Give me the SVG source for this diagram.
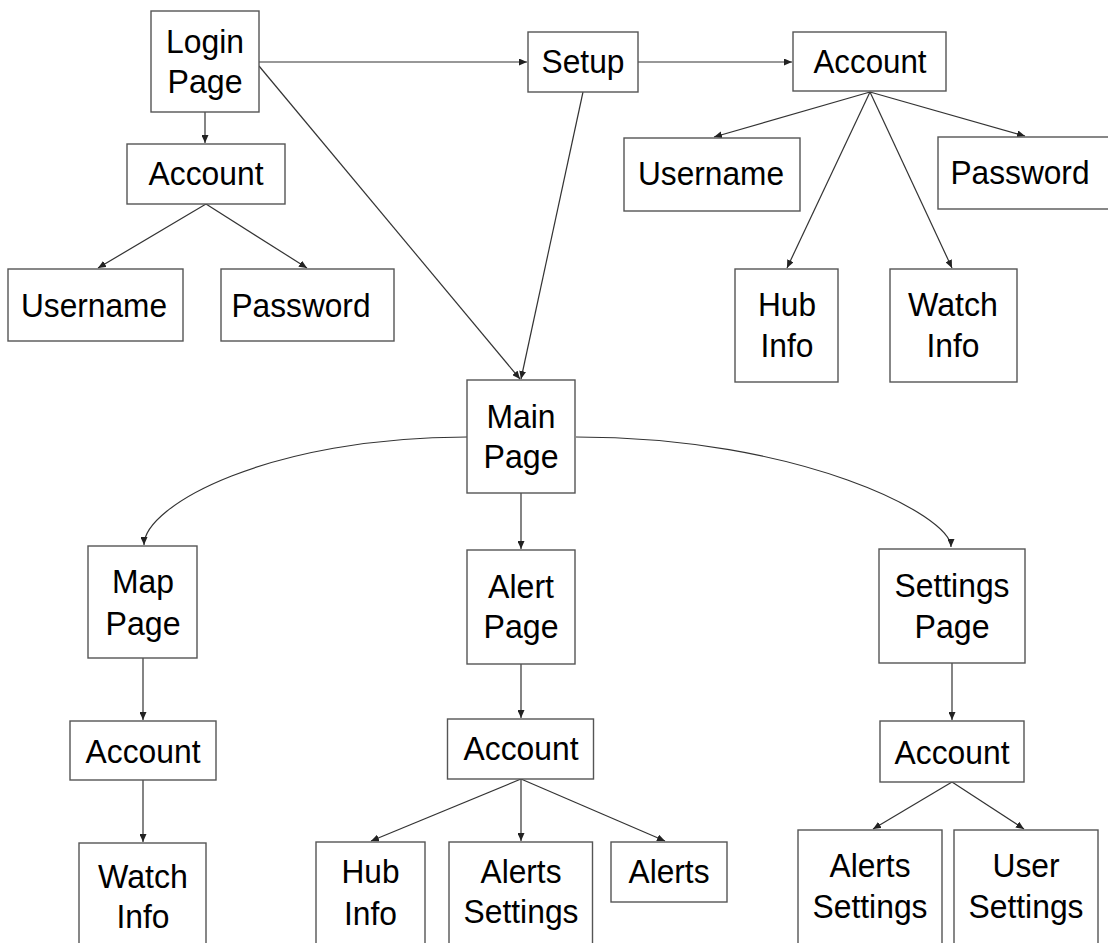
<svg xmlns="http://www.w3.org/2000/svg" width="1108" height="943" viewBox="0 0 1108 943">
<defs>
<style>
.box{fill:#fff;stroke:#555;stroke-width:1.4}
.lbl{font-family:"Liberation Sans",Arial,sans-serif;font-size:34px;fill:#000;text-anchor:middle}
.edge{fill:none;stroke:#333;stroke-width:1.2;marker-end:url(#arr)}
</style>
<marker id="arr" markerUnits="userSpaceOnUse" markerWidth="8" markerHeight="7" refX="8" refY="3.5" orient="auto">
<path d="M0,0 L8,3.5 L0,7 z" fill="#222"/>
</marker>
</defs>
<rect width="1108" height="943" fill="#fff"/>
<g id="connectors">
<path class="edge" d="M205,112 L205,143"/>
<path class="edge" d="M206,204 L98,268"/>
<path class="edge" d="M206,204 L307,268"/>
<path class="edge" d="M259,62 L527,62"/>
<path class="edge" d="M259,66 L520,379"/>
<path class="edge" d="M638,62 L792,62"/>
<path class="edge" d="M583,92 L521,379"/>
<path class="edge" d="M870,92 L714,137"/>
<path class="edge" d="M870,92 L1025,136"/>
<path class="edge" d="M870,92 L787,268"/>
<path class="edge" d="M870,92 L952,268"/>
<path class="edge" d="M467,437 C270,437 144,505 144,545"/>
<path class="edge" d="M521,493 L521,549"/>
<path class="edge" d="M576,437 C800,437 951,515 951,547"/>
<path class="edge" d="M143,658 L143,720"/>
<path class="edge" d="M143,780 L143,842"/>
<path class="edge" d="M521,664 L521,718"/>
<path class="edge" d="M521,779 L371,841"/>
<path class="edge" d="M521,779 L521,841"/>
<path class="edge" d="M521,779 L665,841"/>
<path class="edge" d="M952,663 L952,720"/>
<path class="edge" d="M952,782 L873,829"/>
<path class="edge" d="M952,782 L1024,829"/>
</g>
<g id="login"><rect class="box" x="151" y="11" width="108" height="101"/><text class="lbl" x="205" y="53" textLength="78" lengthAdjust="spacingAndGlyphs">Login</text><text class="lbl" x="205" y="93" textLength="75" lengthAdjust="spacingAndGlyphs">Page</text></g>
<g id="account1"><rect class="box" x="127" y="144" width="158" height="60"/><text class="lbl" x="206" y="185" textLength="115" lengthAdjust="spacingAndGlyphs">Account</text></g>
<g id="username1"><rect class="box" x="8" y="269" width="175" height="72"/><text class="lbl" x="94" y="317" textLength="146" lengthAdjust="spacingAndGlyphs">Username</text></g>
<g id="password1"><rect class="box" x="221" y="269" width="173" height="72"/><text class="lbl" x="301" y="317" textLength="139" lengthAdjust="spacingAndGlyphs">Password</text></g>
<g id="setup"><rect class="box" x="528" y="32" width="110" height="60"/><text class="lbl" x="583" y="73" textLength="83" lengthAdjust="spacingAndGlyphs">Setup</text></g>
<g id="account2"><rect class="box" x="793" y="32" width="153" height="59"/><text class="lbl" x="870" y="73" textLength="113" lengthAdjust="spacingAndGlyphs">Account</text></g>
<g id="username2"><rect class="box" x="624" y="138" width="176" height="73"/><text class="lbl" x="711" y="185" textLength="146" lengthAdjust="spacingAndGlyphs">Username</text></g>
<g id="password2"><rect class="box" x="938" y="137" width="180" height="72"/><text class="lbl" x="1020" y="184" textLength="139" lengthAdjust="spacingAndGlyphs">Password</text></g>
<g id="hubinfo2"><rect class="box" x="735" y="269" width="103" height="113"/><text class="lbl" x="787" y="316" textLength="58" lengthAdjust="spacingAndGlyphs">Hub</text><text class="lbl" x="787" y="357" textLength="53" lengthAdjust="spacingAndGlyphs">Info</text></g>
<g id="watchinfo2"><rect class="box" x="890" y="269" width="127" height="113"/><text class="lbl" x="953" y="316" textLength="90" lengthAdjust="spacingAndGlyphs">Watch</text><text class="lbl" x="953" y="357" textLength="53" lengthAdjust="spacingAndGlyphs">Info</text></g>
<g id="mainpage"><rect class="box" x="467" y="380" width="108" height="113"/><text class="lbl" x="521" y="428" textLength="69" lengthAdjust="spacingAndGlyphs">Main</text><text class="lbl" x="521" y="468" textLength="75" lengthAdjust="spacingAndGlyphs">Page</text></g>
<g id="mappage"><rect class="box" x="88" y="546" width="109" height="112"/><text class="lbl" x="143" y="593" textLength="62" lengthAdjust="spacingAndGlyphs">Map</text><text class="lbl" x="143" y="635" textLength="75" lengthAdjust="spacingAndGlyphs">Page</text></g>
<g id="alertpage"><rect class="box" x="467" y="550" width="108" height="114"/><text class="lbl" x="521" y="598" textLength="66" lengthAdjust="spacingAndGlyphs">Alert</text><text class="lbl" x="521" y="638" textLength="75" lengthAdjust="spacingAndGlyphs">Page</text></g>
<g id="settingspage"><rect class="box" x="879" y="549" width="146" height="114"/><text class="lbl" x="952" y="597" textLength="115" lengthAdjust="spacingAndGlyphs">Settings</text><text class="lbl" x="952" y="638" textLength="75" lengthAdjust="spacingAndGlyphs">Page</text></g>
<g id="account3"><rect class="box" x="70" y="721" width="146" height="59"/><text class="lbl" x="143" y="763" textLength="115" lengthAdjust="spacingAndGlyphs">Account</text></g>
<g id="watchinfo3"><rect class="box" x="79" y="843" width="127" height="110"/><text class="lbl" x="143" y="888" textLength="90" lengthAdjust="spacingAndGlyphs">Watch</text><text class="lbl" x="143" y="928" textLength="53" lengthAdjust="spacingAndGlyphs">Info</text></g>
<g id="account4"><rect class="box" x="447.5" y="719" width="146" height="60"/><text class="lbl" x="521" y="760" textLength="115" lengthAdjust="spacingAndGlyphs">Account</text></g>
<g id="hubinfo4"><rect class="box" x="316" y="842" width="109" height="110"/><text class="lbl" x="370.5" y="883" textLength="58" lengthAdjust="spacingAndGlyphs">Hub</text><text class="lbl" x="370.5" y="925" textLength="53" lengthAdjust="spacingAndGlyphs">Info</text></g>
<g id="alertssettings4"><rect class="box" x="449" y="842" width="143.5" height="110"/><text class="lbl" x="521" y="883" textLength="81" lengthAdjust="spacingAndGlyphs">Alerts</text><text class="lbl" x="521" y="923" textLength="115" lengthAdjust="spacingAndGlyphs">Settings</text></g>
<g id="alerts4"><rect class="box" x="611" y="842" width="116" height="60"/><text class="lbl" x="669" y="883" textLength="81" lengthAdjust="spacingAndGlyphs">Alerts</text></g>
<g id="account5"><rect class="box" x="880" y="721" width="144" height="61"/><text class="lbl" x="952" y="764" textLength="115" lengthAdjust="spacingAndGlyphs">Account</text></g>
<g id="alertssettings5"><rect class="box" x="798" y="830" width="144" height="120"/><text class="lbl" x="870" y="877" textLength="81" lengthAdjust="spacingAndGlyphs">Alerts</text><text class="lbl" x="870" y="918" textLength="115" lengthAdjust="spacingAndGlyphs">Settings</text></g>
<g id="usersettings5"><rect class="box" x="954" y="830" width="144" height="120"/><text class="lbl" x="1026" y="877" textLength="67" lengthAdjust="spacingAndGlyphs">User</text><text class="lbl" x="1026" y="918" textLength="115" lengthAdjust="spacingAndGlyphs">Settings</text></g>
</svg>
